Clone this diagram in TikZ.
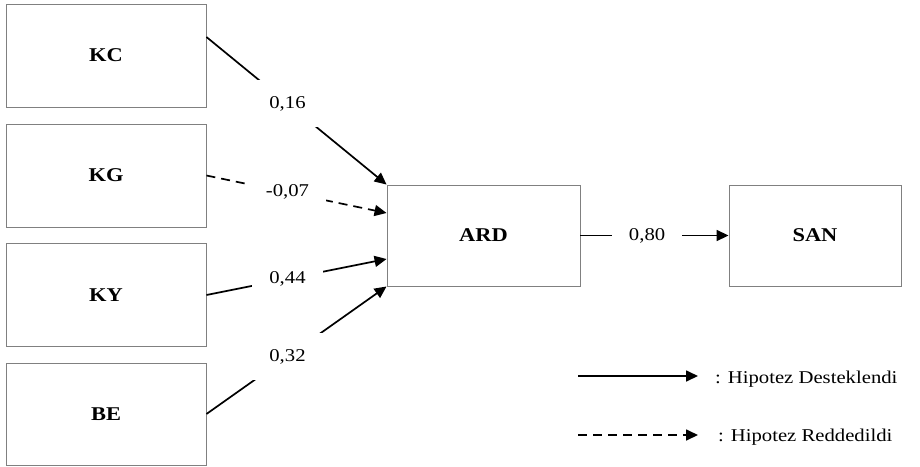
\documentclass[tikz,border=0pt]{standalone}
\usepackage{fontspec}
\setmainfont{Liberation Serif}
\usetikzlibrary{arrows.meta,calc}
\newcommand\sxx[1]{\scalebox{1.15}[1]{#1}}
\begin{document}
\begin{tikzpicture}[x=1pt,y=-1pt,
  box/.style={draw=black!50,line width=0.9pt,minimum width=200pt,minimum height=103pt,inner sep=0pt,
    font=\fontsize{19.5}{22}\selectfont\bfseries},
  conn/.style={line width=1.7pt,-{Triangle[length=12pt,width=11pt]}},
  hyp/.style={fill=white,inner xsep=17pt,inner ysep=16pt,font=\fontsize{18}{20}\selectfont,pos=0.45},
  rej/.style={dash pattern=on 9pt off 6pt},
  legtext/.style={anchor=base west,inner sep=0pt,font=\fontsize{18}{20}\selectfont}]
\useasboundingbox (0,0) rectangle (920,466);
\node[box] (KC) at (106,55.5) {\sxx{KC}};
\node[box] (KG) at (106,175.5) {\sxx{KG}};
\node[box] (KY) at (106,295) {\sxx{KY}};
\node[box,minimum height=102pt] (BE) at (106,414) {\sxx{BE}};
\node[box,minimum width=193pt,minimum height=101pt] (ARD) at (483.5,235.5) {\sxx{ARD}};
\node[box,minimum width=172pt,minimum height=101pt] (SAN) at (815,235.5) {\sxx{SAN}};
\draw[conn] ([yshift=18.5pt]KC.east) -- node[hyp] {\sxx{0,16}} (ARD.north west);
\draw[conn,rej] (KG.east) -- node[hyp] {\sxx{-0,07}} ([yshift=22.5pt]ARD.west);
\draw[conn] (KY.east) -- node[hyp] {\sxx{0,44}} ([yshift=-23.5pt]ARD.west);
\draw[conn] (BE.east) -- node[hyp] {\sxx{0,32}} (ARD.south west);
\draw[conn] (ARD.east) -- node[hyp] {\sxx{0,80}} (SAN.west);
\coordinate (ls1) at (578,376);
\coordinate (le1) at (698,376);
\coordinate (ls2) at (578,435);
\coordinate (le2) at (698,435);
\draw[conn] (ls1) -- (le1);
\draw[conn,rej] (ls2) -- (le2);
\node[legtext] (t1) at (715,383.5) {\sxx{: Hipotez Desteklendi}};
\node[legtext] (t2) at (718,441) {\sxx{: Hipotez Reddedildi}};
\end{tikzpicture}
\end{document}
